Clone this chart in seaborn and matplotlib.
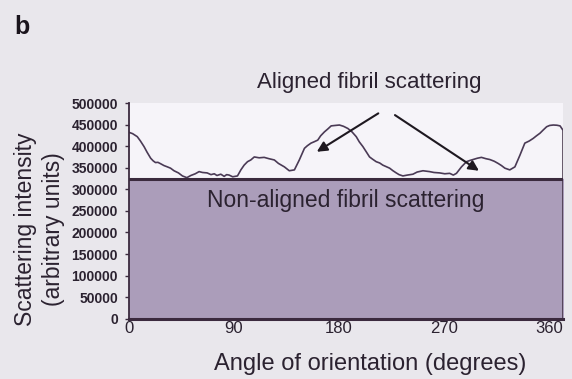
import numpy as np
import pandas as pd
import matplotlib
matplotlib.use("Agg")
import matplotlib.pyplot as plt
import seaborn as sns

# Azimuthal intensity profile (angle in degrees, intensity in arbitrary units)
angle = [0, 3.1, 7.1, 9.8, 12.9, 15.5, 18.6, 20.7, 22.7, 24.8, 27.3, 30, 32.9, 35.6,
         38.6, 42.4, 45.8, 49.6, 53, 56.8, 60.1, 63, 67, 70.3, 73.1, 75.4, 78.7, 81.6,
         83.7, 85.8, 88.9, 93, 95.9, 98.7, 101.6, 104.4, 107.4, 111.6, 115.9, 119.9,
         124.6, 128.1, 133.2, 137.4, 141.8, 146, 150.4, 152.9, 156, 158.6, 161.8, 164.3,
         167.5, 170.5, 173.3, 176.7, 180.4, 183.9, 187.6, 191.2, 194.8, 197.4, 200.5,
         203.6, 206.2, 208.7, 211.9, 214.9, 217.6, 220.1, 223.4, 226.3, 229.1, 231.5,
         234.8, 238.7, 243.4, 247, 252, 257.7, 261.4, 266.3, 270.7, 274.9, 278, 280.7,
         285, 289.3, 292.4, 294.9, 298.6, 302.1, 305.9, 309.3, 313.1, 316.4, 319.3,
         322.2, 326.4, 330.8, 335.1, 339.3, 343.1, 346.5, 349.3, 352.3, 354.9, 358,
         360.6, 363.7, 366.8, 369.5, 372]
intensity = [432000, 429000, 422000, 412000, 399000, 386000, 372000, 366000, 362000,
             362500, 359000, 355000, 352000, 349000, 343000, 338000, 331000, 327000,
             332000, 336000, 341000, 339000, 338000, 334000, 336000, 332000, 335000,
             330000, 334000, 333000, 329000, 331000, 345000, 356000, 364000, 368000,
             375000, 373000, 374000, 371000, 368000, 360000, 352000, 343000, 345000,
             368000, 395000, 401000, 407000, 410000, 414000, 424000, 433000, 440000,
             447000, 448000, 449000, 446000, 441000, 433000, 422000, 410000, 399000,
             386000, 375000, 370000, 364000, 361000, 356000, 353000, 349000, 343000,
             338000, 334000, 331000, 333000, 335000, 340000, 343000, 341000, 339000,
             338000, 336000, 337000, 333000, 337000, 352000, 364000, 367000, 369000,
             372000, 374000, 371000, 369000, 365000, 360000, 355000, 349000, 345000,
             352000, 379000, 407000, 412000, 418000, 424000, 430000, 437000, 445000,
             448000, 449000, 448500, 447000, 437000]

# Constant isotropic (non-aligned) baseline
baseline_angle = [0, 372]
baseline_level = [325000, 325000]

x_ticks = [0, 90, 180, 270, 360]
y_ticks = [0, 50000, 100000, 150000, 200000, 250000, 300000, 350000, 400000, 450000, 500000]

profile = pd.DataFrame({"angle": angle, "intensity": intensity})

sns.set_theme(style="white")
plt.rcParams["font.family"] = ["Liberation Sans", "DejaVu Sans"]

ink = "#2b2230"
frame = "#3b2a3e"
page = "#e9e7ec"

fig = plt.figure(figsize=(5.72, 3.79), dpi=100, facecolor=page)
ax = fig.add_axes([0.2255, 0.159, 0.7587, 0.5692])
ax.set_facecolor("#f6f4f9")

# Shaded block for the non-aligned component
ax.fill_between(baseline_angle, 0, baseline_level, color="#ab9dba", zorder=1)
ax.plot(baseline_angle, baseline_level, color=frame, lw=2.2, zorder=3)
ax.vlines(angle[-1], 0, intensity[-1], color=frame, lw=1.8, zorder=3)

sns.lineplot(data=profile, x="angle", y="intensity", ax=ax, color="#4a3a55",
             lw=1.2, zorder=2)

ax.set_xlim(0, 372)
ax.set_ylim(0, 500000)
ax.set_xticks(x_ticks)
ax.set_xticklabels([str(v) for v in x_ticks], fontsize=12, color=ink)
ax.set_yticks(y_ticks)
ax.set_yticklabels([str(v) for v in y_ticks], fontsize=10, fontweight="bold",
                   color=ink)
ax.tick_params(axis="y", left=True, length=3, width=1, color=frame, pad=5)
ax.tick_params(axis="x", bottom=False, length=0, pad=1.5)

for side in ["top", "right"]:
    ax.spines[side].set_visible(False)
ax.spines["left"].set_color(frame)
ax.spines["left"].set_linewidth(1.3)
ax.spines["bottom"].set_color(frame)
ax.spines["bottom"].set_linewidth(2.2)

ax.set_xlabel("Angle of orientation (degrees)", fontsize=17, color=ink)
ax.xaxis.set_label_coords(0.555, -0.16)
ax.set_ylabel("Scattering intensity\n(arbitrary units)", fontsize=16.5, color=ink,
              linespacing=1.25)
ax.yaxis.set_label_coords(-0.148, 0.416)

ax.text(186, 275000, "Non-aligned fibril scattering", fontsize=16.5, color=ink,
        ha="center", va="center", zorder=4)

# Arrows pointing at the aligned peaks
ax.text(206, 1.097, "Aligned fibril scattering",
        transform=ax.get_xaxis_transform(), fontsize=16,
        color=ink, ha="center", va="center")
arrow = dict(arrowstyle="-|>", color="#1e1820", lw=1.5, mutation_scale=15,
             shrinkA=0, shrinkB=0)
ax.annotate("", xy=(161, 387000), xytext=(213.7, 476000), arrowprops=arrow,
            annotation_clip=False, zorder=5)
ax.annotate("", xy=(300, 343000), xytext=(228, 472000), arrowprops=arrow,
            annotation_clip=False, zorder=5)

fig.text(0.025, 0.929, "b", fontsize=18, fontweight="bold", color="#1a141c",
         ha="left", va="center")

fig.savefig("out.png", dpi=100, facecolor=page)
